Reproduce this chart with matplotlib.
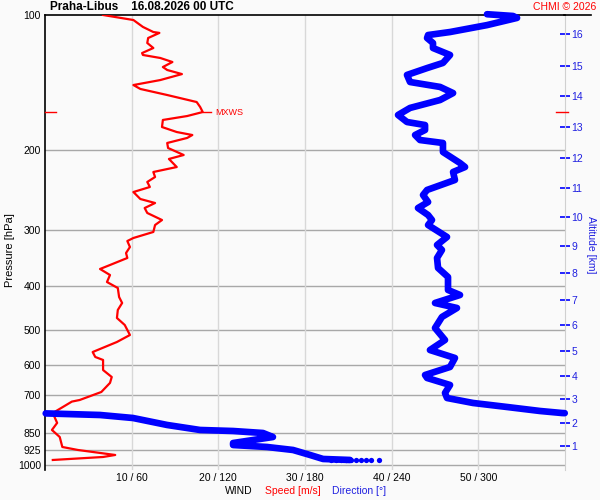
"""Upper-air wind profile, Praha-Libus: speed and direction vs pressure."""

import numpy as np
import matplotlib
matplotlib.use('Agg')
import matplotlib.pyplot as plt
from matplotlib.lines import Line2D

plt.rcParams['font.family'] = ['Liberation Sans', 'DejaVu Sans']

# === Data ===
speed_p = [100.0, 102.6, 106.3, 109.1, 109.6, 112.5, 115.4, 118.4, 121.5, 122.7,
           124.6, 127.2, 130.5, 132.5, 135.3, 139.5, 143.1, 146.0, 150.6, 156.1,
           160.1, 164.3, 167.7, 171.1, 177.4, 182.0, 184.8, 187.6, 192.5, 197.5,
           204.7, 208.9, 217.7, 223.3, 229.1, 235.0, 241.1, 247.4, 256.4, 261.7,
           268.5, 275.4, 285.5, 292.9, 303.5, 313.0, 317.9, 327.8, 338.0, 346.7,
           359.4, 366.8, 378.3, 392.1, 404.3, 423.4, 436.5, 452.4, 471.3, 488.5,
           514.2, 532.9, 561.0, 575.4, 584.3, 615.1, 637.5, 657.0, 688.3, 717.1,
           723.0, 766.5, 786.3, 806.3, 836.0, 866.6, 912.0, 926.1, 950.1, 959.9,
           974.7]
speed_ms = [6.7, 10.2, 11.3, 12.5, 13.2, 11.9, 11.8, 12.5, 11.2, 11.3,
            13.3, 14.7, 13.6, 14.1, 15.8, 13.3, 10.2, 11.0, 14.1, 17.5,
            17.9, 18.2, 16.4, 13.6, 13.5, 15.2, 17.0, 16.4, 14.1, 14.2,
            16.0, 14.3, 15.2, 12.5, 12.7, 11.8, 12.1, 10.2, 11.0, 12.7,
            11.5, 11.8, 13.5, 12.7, 12.5, 10.2, 9.5, 9.8, 9.35, 9.5,
            7.5, 6.35, 7.5, 7.15, 8.4, 8.55, 8.9, 8.4, 8.3, 9.2,
            9.8, 8.3, 5.5, 5.8, 6.7, 6.7, 7.7, 7.5, 6.5, 4.0,
            3.1, 0.9, 1.15, 1.4, 0.8, 1.7, 2.0, 3.8, 8.1, 6.7,
            0.9]

dir_p = [99.6, 100.5, 101.5, 105.3, 109.1, 110.8, 112.5, 115.4, 118.4, 122.7,
         127.8, 131.2, 135.9, 140.9, 144.5, 149.1, 154.5, 160.9, 166.8, 172.9,
         175.6, 180.1, 184.8, 189.6, 192.5, 201.6, 213.3, 217.7, 223.3, 232.6,
         244.8, 251.2, 260.4, 268.5, 278.3, 285.5, 292.9, 311.4, 324.4, 332.8,
         346.7, 364.9, 382.2, 408.4, 419.0, 436.5, 447.8, 468.9, 496.1, 527.5,
         555.3, 578.4, 605.6, 631.0, 640.7, 664.1, 691.8, 709.8, 728.1, 743.2,
         758.6, 766.5, 767.0, 768.0, 774.3, 786.3, 814.8, 836.0, 840.4, 849.0,
         866.6, 880.1, 893.7, 902.9, 912.0, 926.1, 950.1, 969.7, 974.7]
dir_deg = [306.0, 324.0, 326.8, 306.0, 280.4, 265.2, 264.5, 268.6, 268.6, 280.4,
           275.5, 264.5, 250.6, 252.7, 273.5, 282.5, 273.5, 252.7, 244.4, 250.6,
           263.1, 263.1, 256.2, 259.6, 275.5, 275.5, 287.3, 290.8, 282.5, 283.8,
           264.5, 261.7, 265.2, 258.2, 265.2, 267.9, 265.2, 278.3, 271.4, 274.8,
           271.4, 272.1, 279.0, 279.0, 287.3, 270.0, 285.2, 274.8, 270.0, 276.9,
           266.5, 283.8, 280.4, 263.1, 264.5, 280.4, 276.9, 278.3, 296.3, 319.8,
           342.7, 357.9, 359.8, 0.5, 38.1, 60.9, 84.5, 107.3, 130.2, 150.9,
           157.8, 144.0, 130.2, 130.2, 153.7, 171.7, 183.5, 192.5, 211.2]

# near-surface direction samples, drawn as separate dots
sfc_p = [975.0] * 10
sfc_deg = [198.0, 201.5, 205.0, 208.5, 212.0, 215.5, 219.0, 222.5, 226.0, 231.0]

p_levels = [100, 200, 300, 400, 500, 600, 700, 850, 925, 1000]
speed_ticks = [10, 20, 30, 40, 50]
dir_ticks = [60, 120, 180, 240, 300]

alt_km = list(range(1, 17))
alt_p = [907.6, 806.3, 715.2, 634.2, 558.2, 488.5, 430.1, 374.5,
         326.1, 281.1, 242.4, 207.9, 177.4, 151.4, 129.8, 110.2]

mxws_p = 164.3
mxws_speed = 18.2

RED = '#ff0000'
BLUE = '#0000ff'
TEXT_BLUE = '#2020e0'
BG = '#fafafa'


def split_wrap(deg, p):
    """Insert NaN where direction jumps across north so the line breaks."""
    deg = np.asarray(deg, float)
    p = np.asarray(p, float)
    out_d, out_p = [deg[0]], [p[0]]
    for i in range(1, len(deg)):
        if abs(deg[i] - deg[i - 1]) > 180:
            out_d.append(np.nan)
            out_p.append(np.nan)
        out_d.append(deg[i])
        out_p.append(p[i])
    return np.array(out_d), np.array(out_p)


fig = plt.figure(figsize=(6, 5), dpi=100, facecolor=BG)
ax = fig.add_axes([0.075, 0.06, 0.8667, 0.91])
ax.set_facecolor(BG)

ax.set_yscale('log')
ax.set_ylim(1026, 100)
ax.set_xlim(0, 60)

# grid
for p in p_levels[1:]:
    ax.axhline(p, color='#a8a8a8', lw=1.0, zorder=1)
for s in speed_ticks:
    ax.axvline(s, color='#d8d8d8', lw=1.0, zorder=1)

ax.set_yticks(p_levels)
ax.set_yticklabels([str(p) for p in p_levels])
ax.yaxis.set_minor_locator(matplotlib.ticker.NullLocator())
ax.set_xticks(speed_ticks)
ax.set_xticklabels([f'{s} / {d}' for s, d in zip(speed_ticks, dir_ticks)])
ax.tick_params(axis='y', length=0, pad=3, labelsize=7.5)
ax.tick_params(axis='x', length=0, pad=2.5, labelsize=7.5)

ax.spines['bottom'].set_visible(False)
ax.spines['right'].set_color('#d0d0d0')
ax.spines['left'].set_linewidth(1.2)
ax.spines['top'].set_linewidth(1.2)
# top frame line runs on past the right axis
fig.add_artist(Line2D([0.94, 0.985], [0.97, 0.97], color='black', lw=1.2))

# speed profile
ax.plot(speed_ms, speed_p, color=RED, lw=1.6, zorder=3)

# MXWS marker
ax.plot([mxws_speed, mxws_speed + 1.0], [mxws_p, mxws_p], color=RED, lw=1, zorder=3)
ax.text(mxws_speed + 1.4, mxws_p, 'MXWS', color=RED, fontsize=6.5, va='center')
ax.plot([0, 1.3], [mxws_p, mxws_p], color=RED, lw=1, clip_on=False, zorder=3)
ax.plot([59.0, 60.4], [mxws_p, mxws_p], color=RED, lw=1, clip_on=False, zorder=3)

fig.text(0.016, 0.5, 'Pressure [hPa]', rotation=90, fontsize=8,
         ha='center', va='center')

# direction profile on a 0-360 twin axis
axd = ax.twiny()
axd.set_xlim(0, 360)
axd.set_xticks([])
for side in ['top', 'bottom', 'left', 'right']:
    axd.spines[side].set_visible(False)
d_line, p_line = split_wrap(dir_deg, dir_p)
axd.plot(d_line, p_line, color=BLUE, lw=4.8, solid_capstyle='round',
         solid_joinstyle='round', zorder=4, clip_on=False)
axd.plot(sfc_deg, sfc_p, 'o', color=BLUE, ms=3.8, mec='none', zorder=4)

# altitude axis on the right
axa = ax.secondary_yaxis('right')
axa.set_yticks(alt_p)
axa.set_yticklabels([str(k) for k in alt_km])
axa.yaxis.set_minor_locator(matplotlib.ticker.NullLocator())
axa.tick_params(axis='y', direction='inout', length=7, width=1.2, color=BLUE,
                labelcolor=TEXT_BLUE, labelsize=7.5, pad=1)
axa.spines['right'].set_visible(False)
fig.text(0.985, 0.51, 'Altitude [km]', rotation=-90, color=TEXT_BLUE,
         fontsize=7.5, ha='center', va='center')

# titles and axis legend
fig.text(0.083, 0.986, 'Praha-Libus    16.08.2026 00 UTC', fontsize=8.5,
         fontweight='bold', va='center', ha='left')
fig.text(0.993, 0.986, 'CHMI © 2026', fontsize=7.5, color=RED, va='center', ha='right')
fig.text(0.375, 0.018, 'WIND', fontsize=7.5, va='center', ha='left')
fig.text(0.442, 0.018, 'Speed [m/s]', fontsize=7.5, color=RED, va='center', ha='left')
fig.text(0.553, 0.018, 'Direction [°]', fontsize=7.5, color=TEXT_BLUE, va='center', ha='left')

fig.savefig('out.png', dpi=100, facecolor=BG)
